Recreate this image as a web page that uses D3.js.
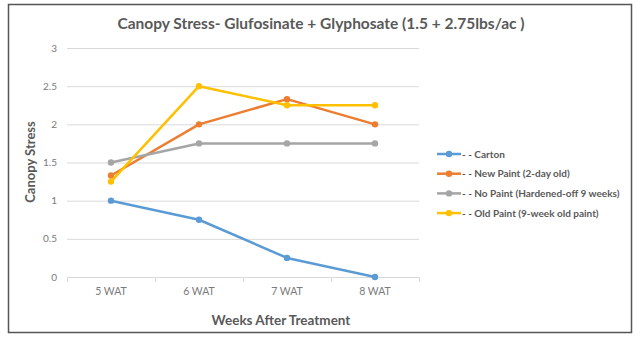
<!DOCTYPE html>
<html>
<head>
<meta charset="utf-8">
<script src="https://cdn.jsdelivr.net/npm/d3@7"></script>
<style>
  body { margin: 0; background: #fff; }
  text { font-family: Lato, "Open Sans", sans-serif; fill: #595959; }
</style>
</head>
<body>
<svg></svg>
<script>
// chart data
var weeks = ["5 WAT", "6 WAT", "7 WAT", "8 WAT"];
var seriesNames = ["- - Carton", "- - New Paint (2-day old)", "- - No Paint (Hardened-off 9 weeks)", "- - Old Paint (9-week old paint)"];
var carton = [1, 0.75, 0.25, 0];
var newPaint = [1.33, 2, 2.33, 2];
var noPaint = [1.5, 1.75, 1.75, 1.75];
var oldPaint = [1.25, 2.5, 2.25, 2.25];
var yTicks = [0, 0.5, 1, 1.5, 2, 2.5, 3];
var colors = ["#5b9bd5", "#ed7d31", "#a5a5a5", "#ffc000"];

var series = [carton, newPaint, noPaint, oldPaint];

var svgWidth = 640, svgHeight = 341;
var svg = d3.select("svg").attr("width", svgWidth).attr("height", svgHeight);

// outer border
svg.append("rect")
   .attr("x", 8.5).attr("y", 4.5)
   .attr("width", 623).attr("height", 328)
   .attr("fill", "none").attr("stroke", "#555").attr("stroke-width", 1.5);

var plotLeft = 67, plotRight = 419, plotTop = 48, plotBottom = 277;

var x = d3.scaleBand().domain(weeks).range([plotLeft, plotRight]);
var y = d3.scaleLinear().domain([0, 3]).range([plotBottom, plotTop]);

// gridlines
svg.append("g").selectAll("line")
   .data(yTicks)
   .enter().append("line")
   .attr("x1", plotLeft).attr("x2", plotRight)
   .attr("y1", function(d) { return y(d) + 0.5; })
   .attr("y2", function(d) { return y(d) + 0.5; })
   .attr("stroke", "#d9d9d9").attr("stroke-width", 1);

// y labels
svg.append("g").selectAll("text")
   .data(yTicks)
   .enter().append("text")
   .attr("x", 57).attr("y", function(d) { return y(d); })
   .attr("dy", "0.35em")
   .attr("text-anchor", "end")
   .style("font-size", "10px")
   .style("fill", "#7a7a7a")
   .text(function(d) { return d; });

// x axis ticks
var xAxis = d3.axisBottom(x).tickSize(0).tickPadding(10);
var gx = svg.append("g").attr("transform", "translate(0," + (plotBottom + 0.5) + ")").call(xAxis);
gx.select(".domain").remove();
gx.selectAll("text").style("font-size", "10.5px").style("fill", "#7a7a7a").style("font-family", "Lato, sans-serif");
svg.append("g").selectAll("line")
   .data(d3.range(weeks.length + 1))
   .enter().append("line")
   .attr("x1", function(i) { return plotLeft + i * x.step() + 0.5; })
   .attr("x2", function(i) { return plotLeft + i * x.step() + 0.5; })
   .attr("y1", plotBottom).attr("y2", plotBottom + 5)
   .attr("stroke", "#d9d9d9");

// axis titles
svg.append("text")
   .attr("x", 281).attr("y", 325)
   .attr("text-anchor", "middle")
   .style("font-size", "13.5px").style("font-weight", "bold")
   .text("Weeks After Treatment");

svg.append("text")
   .attr("transform", "translate(35,162) rotate(-90)")
   .attr("text-anchor", "middle")
   .style("font-size", "13px").style("font-weight", "bold")
   .text("Canopy Stress");

// title
svg.append("text")
   .attr("x", 321).attr("y", 29)
   .attr("text-anchor", "middle")
   .style("font-size", "15.5px").style("font-weight", "bold")
   .text("Canopy Stress- Glufosinate + Glyphosate (1.5 + 2.75lbs/ac )");

// lines
var line = d3.line()
   .x(function(d, i) { return x(weeks[i]) + x.bandwidth() / 2; })
   .y(function(d) { return y(d); });

series.forEach(function(s, k) {
  svg.append("path")
     .datum(s)
     .attr("d", line)
     .attr("fill", "none")
     .attr("stroke", colors[k])
     .attr("stroke-width", 2.5)
     .attr("stroke-linejoin", "round");
  svg.append("g").selectAll("circle")
     .data(s)
     .enter().append("circle")
     .attr("cx", function(d, i) { return x(weeks[i]) + x.bandwidth() / 2; })
     .attr("cy", function(d) { return y(d); })
     .attr("r", 3.2)
     .attr("fill", colors[k]);
});

// legend
var legend = svg.append("g").selectAll("g")
   .data(seriesNames)
   .enter().append("g")
   .attr("transform", function(d, i) { return "translate(437," + (154 + i * 19.7) + ")"; });
legend.append("line")
   .attr("x1", 0).attr("x2", 24)
   .attr("stroke", function(d, i) { return colors[i]; })
   .attr("stroke-width", 2.5);
legend.append("circle")
   .attr("cx", 12).attr("r", 3.2)
   .attr("fill", function(d, i) { return colors[i]; });
legend.append("text")
   .attr("x", 25).attr("dy", "0.35em")
   .style("font-size", "10px").style("font-weight", "bold")
   .text(function(d) { return d; });
</script>
</body>
</html>
